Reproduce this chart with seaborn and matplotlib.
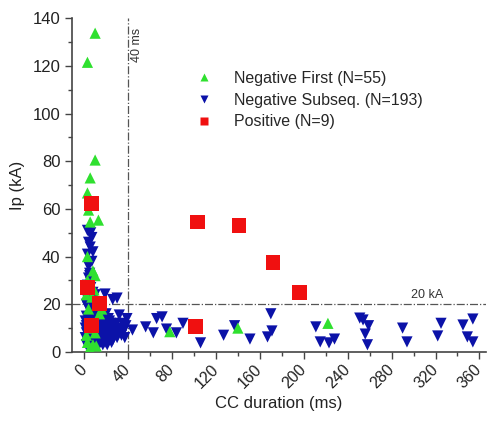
import numpy as np
import pandas as pd
import matplotlib
matplotlib.use("Agg")
import matplotlib.pyplot as plt
from matplotlib.lines import Line2D
import seaborn as sns

# ==============================
# Data
# ==============================

# Negative first strokes
first_x = [10, 3, 10, 5.5, 3, 4, 13, 5.5, 3, 8, 10, 3, 5, 9, 2, 7, 12, 4, 14, 6,
           3, 8, 11, 5, 13, 16, 2, 10, 222, 140, 78]
first_y = [133.7, 121.5, 80.5, 73, 66.7, 59.5, 55.3, 54.5, 40, 34, 32, 30, 28, 26, 24, 23, 22, 18, 16, 10,
           4, 3, 2.5, 1.5, 20, 18, 7, 8, 12, 10, 8.5]

# Negative subsequent strokes
subs_x = [3, 6, 7, 5.5, 4, 5, 3, 6, 4, 8, 2, 6, 10, 3, 5, 7, 9, 11, 2, 4,
          6, 8, 10, 12, 3, 5, 7, 9, 11, 13, 2, 4, 6, 8, 10, 12, 14, 3, 5, 7,
          9, 11, 13, 2, 4, 6, 8, 15, 16, 17, 18, 19, 20, 21, 22, 23, 24, 25, 26, 27,
          28, 29, 30, 31, 33, 34, 35, 36, 37, 38, 14, 16, 18, 20, 22, 24, 15, 17, 19, 21,
          23, 25, 12, 14, 3, 5, 7, 4, 8, 2, 6, 10, 13, 19, 26, 30, 32, 39, 1, 1,
          1, 2, 11, 9, 7, 5, 3, 9, 11, 13, 6, 4, 8, 12,
          44, 56, 63, 66, 71, 75, 84, 90, 106, 127, 137, 151, 167, 171, 170, 211, 215, 223, 228, 251,
          254, 259, 256, 258, 290, 294, 322, 325, 345, 349, 354, 354]
subs_y = [51, 50, 48, 44, 36, 32, 41, 29, 26, 25, 23, 22, 24, 19, 18, 17, 16, 19, 15, 14,
          13, 12, 14, 13, 11, 10, 9, 10, 9, 8, 8, 7, 6, 5, 6, 7, 5, 5, 4, 3,
          3, 4, 3, 3, 2, 2, 2, 10, 12, 7, 5, 9, 11, 6, 8, 13, 10, 7, 5, 11,
          9, 12, 6, 8, 10, 7, 12, 9, 6, 11, 17, 15, 13, 16, 14, 12, 4, 3, 4, 3,
          5, 4, 21, 20, 28, 33, 38, 46, 42, 20, 15, 20, 15, 24.3, 22, 22.6, 15.5, 14, 10, 6,
          13, 11, 12, 7, 12, 8, 9, 21, 17, 11, 27, 31, 19, 16,
          9.2, 10.5, 8, 14, 14.7, 9.6, 8, 12, 3.8, 7, 11, 5.4, 6.3, 8.8, 16, 10.5, 4.2, 3.8, 5.4, 14.2,
          13.4, 11, 7.5, 3, 10, 4.2, 6.7, 12, 11.3, 6.3, 4.2, 13.8]

# Positive strokes
pos_x = [7, 3, 13.6, 7, 103.6, 141, 172, 196, 101]
pos_y = [62.4, 27, 20.5, 11, 54.5, 53, 37.5, 25, 10.5]

labels = ["Negative First (N=55)", "Negative Subseq. (N=193)", "Positive (N=9)"]
x_ticks = [0, 40, 80, 120, 160, 200, 240, 280, 320, 360]
y_ticks = [0, 20, 40, 60, 80, 100, 120, 140]

green = '#2fe02f'
blue = '#0b12a8'
red = '#f01010'

# ==============================
# Plot
# ==============================

sns.set_style("ticks")
plt.rcParams['font.family'] = ['Liberation Sans', 'DejaVu Sans']

fig = plt.figure(figsize=(4.87, 4.23), dpi=100)
ax = fig.add_axes([0.148, 0.168, 0.85, 0.789])

sns.scatterplot(x=subs_x, y=subs_y, marker='v', s=65, color=blue,
                edgecolor='none', ax=ax, zorder=3)
sns.scatterplot(x=first_x, y=first_y, marker='^', s=65, color=green,
                edgecolor='none', ax=ax, zorder=3)
sns.scatterplot(x=pos_x, y=pos_y, marker='s', s=115, color=red,
                edgecolor='none', ax=ax, zorder=4)

ax.axvline(40, color='#555555', lw=0.9, ls='-.', zorder=1)
ax.axhline(20, color='#555555', lw=0.9, ls='-.', zorder=1)
ax.text(43, 136, "40 ms", rotation=90, va='top', ha='left', fontsize=9, color='#333333')
ax.text(298, 21.5, "20 kA", va='bottom', ha='left', fontsize=9, color='#333333')

ax.set_xlim(-11, 366)
ax.set_ylim(0, 140)
ax.set_xticks(x_ticks)
ax.set_yticks(y_ticks)
ax.set_xticks(np.arange(20, 360, 40), minor=True)
ax.set_yticks(np.arange(10, 140, 20), minor=True)
ax.tick_params(axis='both', which='major', direction='out', length=5, width=1,
               labelsize=12, color='#444444', labelcolor='#222222')
ax.tick_params(axis='x', which='major', labelsize=11.5, pad=6)
ax.tick_params(axis='both', which='minor', direction='out', length=3, width=1, color='#444444')
plt.setp(ax.get_xticklabels(), rotation=45, ha='right', va='center', rotation_mode='anchor')

for side in ['left', 'bottom']:
    ax.spines[side].set_color('#444444')
    ax.spines[side].set_linewidth(1.2)
sns.despine(ax=ax)

ax.set_xlabel("CC duration (ms)", fontsize=12, color='#222222', labelpad=3)
ax.set_ylabel("Ip (kA)", fontsize=12, color='#222222', labelpad=5)

handles = [Line2D([], [], ls='none', marker='^', ms=6, color=green, mec='none'),
           Line2D([], [], ls='none', marker='v', ms=6, color=blue, mec='none'),
           Line2D([], [], ls='none', marker='s', ms=5.5, color=red, mec='none')]
ax.legend(handles, labels, loc='upper left',
          bbox_to_anchor=(0.255, 0.885), frameon=False, fontsize=11.5,
          handletextpad=1.1, labelspacing=0.42, handlelength=1.5)

plt.savefig("out.png", dpi=100)
